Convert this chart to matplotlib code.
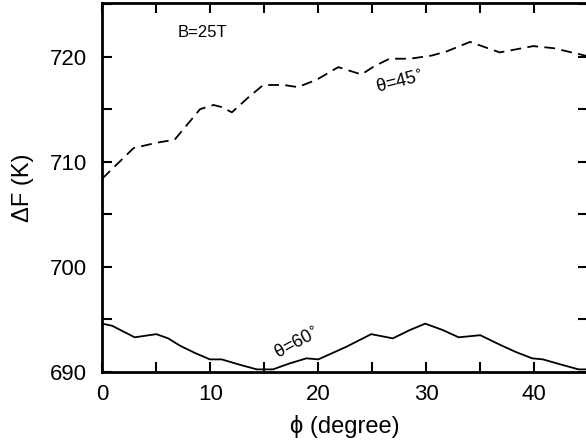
import matplotlib
matplotlib.use("Agg")
import matplotlib.pyplot as plt
from matplotlib.ticker import MultipleLocator

plt.rcParams['font.family'] = ['Liberation Sans', 'DejaVu Sans']

# theta = 45 deg (dashed)
phi45 = [0.0, 1.5, 2.9, 5.0, 6.7, 8.0, 9.05, 10.3, 11.05, 12.0, 13.5, 14.9, 16.8, 18.1,
         19.85, 21.85, 24.0, 25.2, 26.6, 28.5, 30.5, 31.9, 34.05, 36.8, 39.9, 41.8, 44.7, 45.0]
dF45 = [708.4, 709.9, 711.3, 711.8, 712.1, 713.7, 715.0, 715.4, 715.2, 714.7, 716.1, 717.3, 717.3, 717.1,
        717.8, 719.0, 718.3, 719.1, 719.8, 719.8, 720.1, 720.5, 721.4, 720.4, 721.0, 720.8, 720.1, 720.0]

# theta = 60 deg (solid)
phi60 = [0.0, 0.9, 3.0, 5.0, 6.1, 7.2, 8.6, 9.97, 11.05, 12.7, 14.3, 15.8, 17.3, 18.9, 20.0,
         22.6, 24.9, 26.9, 28.5, 29.9, 31.5, 33.0, 35.0, 36.8, 38.3, 39.8, 40.8, 42.5, 44.1, 45.0]
dF60 = [694.6, 694.4, 693.3, 693.6, 693.2, 692.5, 691.8, 691.2, 691.2, 690.7, 690.25, 690.25, 690.8, 691.3, 691.2,
        692.4, 693.6, 693.2, 694.0, 694.6, 694.0, 693.3, 693.5, 692.6, 691.9, 691.3, 691.2, 690.7, 690.25, 690.25]

xticks = [0, 10, 20, 30, 40]
yticks = [690, 700, 710, 720]

fig = plt.figure(figsize=(5.86, 4.45), dpi=100)
ax = fig.add_axes([102.3/586, 1-372/445, (588.3-102.3)/586, (372-3)/445])

ax.plot(phi45, dF45, color='black', lw=1.3, linestyle=(0, (6, 3.5)))
ax.plot(phi60, dF60, color='black', lw=1.3)

ax.set_xlim(0, 45)
ax.set_ylim(690, 725.1)
ax.set_xticks(xticks)
ax.set_yticks(yticks)
ax.xaxis.set_minor_locator(MultipleLocator(5))
ax.yaxis.set_minor_locator(MultipleLocator(5))
ax.tick_params(which='both', direction='in', top=True, right=True, length=7, width=1.5, labelsize=16)
ax.tick_params(axis='x', pad=9)
ax.tick_params(axis='y', pad=11)
for s in ax.spines.values():
    s.set_linewidth(2)

ax.set_xlabel('ϕ (degree)', fontsize=17, labelpad=7)
ax.set_ylabel('ΔF (K)', fontsize=17, va='center')
ax.yaxis.set_label_coords(-(102.3 - 23) / 486.0, 0.5)

ax.text(9.3, 722.3, 'B=25T', fontsize=12, ha='center', va='center')
ax.text(27.6, 717.5, 'θ=45$^{\\circ}$', fontsize=13, ha='center', va='center', rotation=14)
ax.text(18.1, 692.7, 'θ=60$^{\\circ}$', fontsize=13, ha='center', va='center', rotation=28)

fig.savefig('out.png', dpi=100)
